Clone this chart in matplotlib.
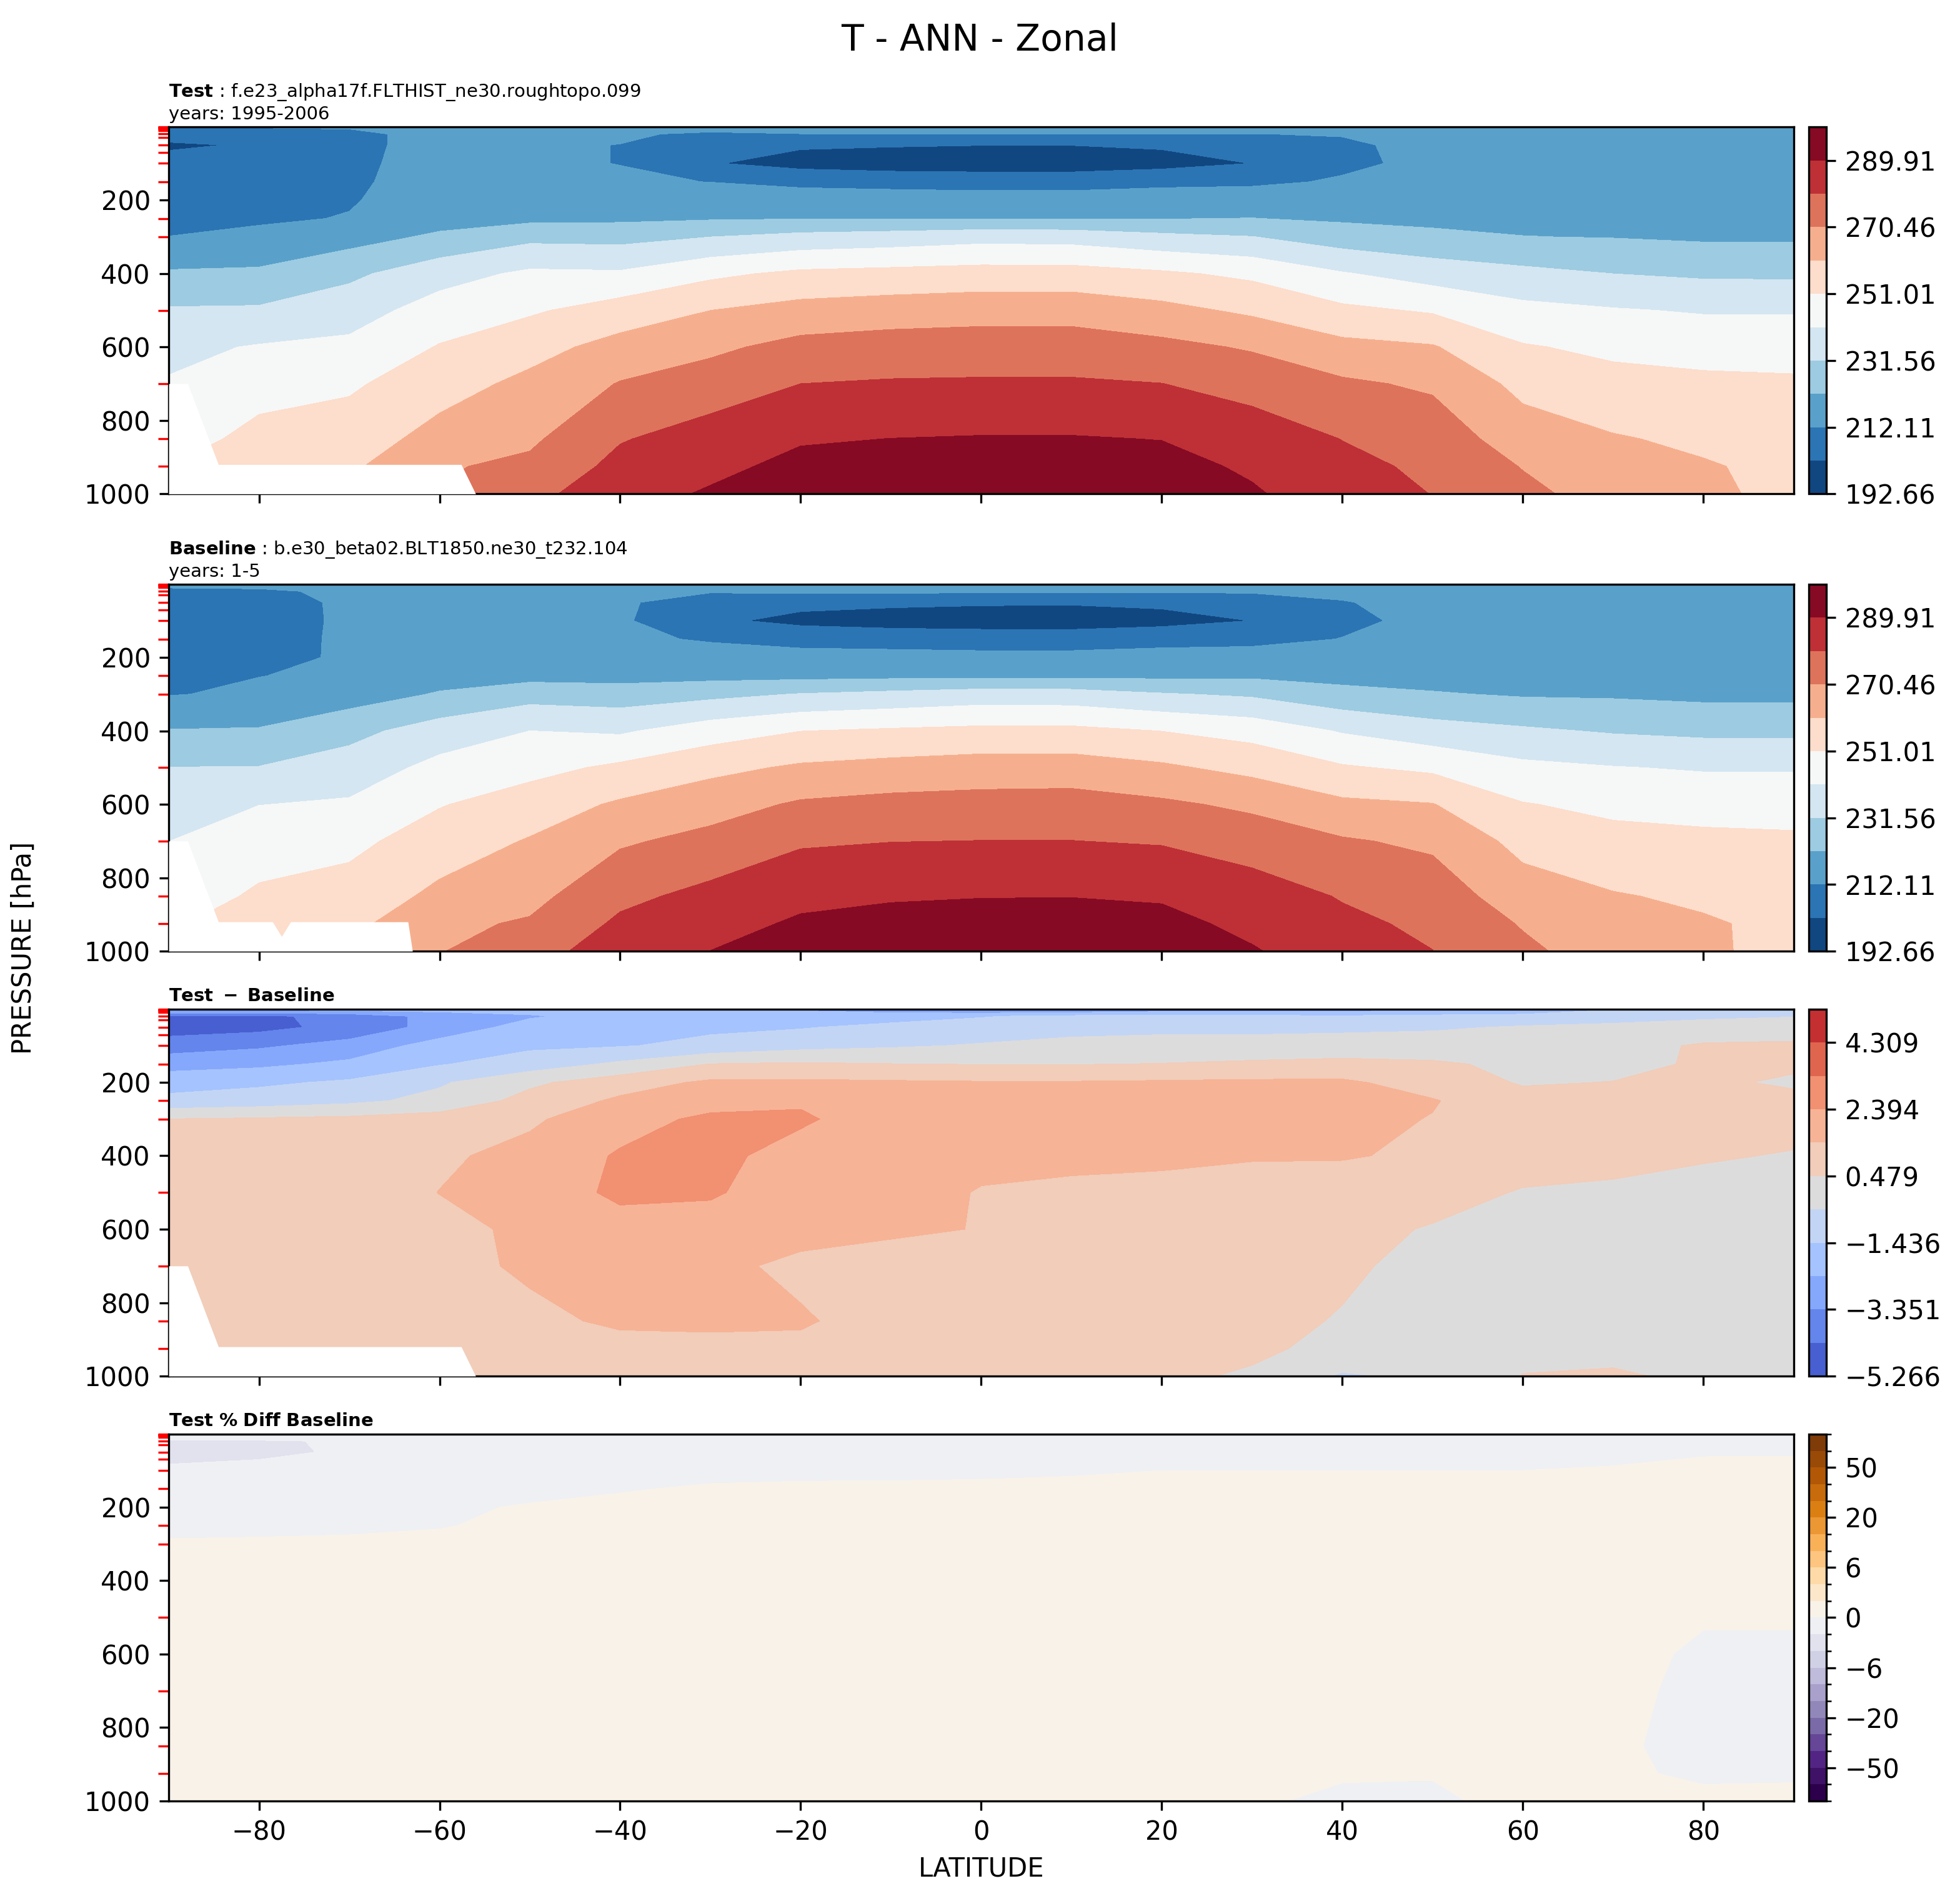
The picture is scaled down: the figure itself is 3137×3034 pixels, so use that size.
import numpy as np
import matplotlib
matplotlib.use("Agg")
import matplotlib.pyplot as plt
from matplotlib.colors import BoundaryNorm
from matplotlib.ticker import FixedLocator

lats = [-90, -80, -70, -60, -50, -40, -30, -20, -10, 0, 10, 20, 30, 40, 50, 60, 70, 80, 90]
plev = [1, 20, 50, 100, 150, 200, 250, 300, 400, 500, 600, 700, 850, 925, 1000]
std_levels = [1, 2, 3, 5, 7, 10, 20, 30, 50, 70, 100, 150, 200, 250, 300, 400, 500, 600, 700, 850, 925, 1000]

# Test temperature (K), one list per latitude, values at plev
T_test = [
    [213, 205, 201.5, 204.5, 206, 208, 210, 212.2, 223, 232.5, 239, 242, 248, 251, 253],
    [213, 206, 203, 205, 207, 209, 211, 214, 223.5, 232.8, 242, 248.5, 253, 256, 258],
    [213, 210, 210, 210.5, 211, 211.5, 212.5, 218, 229.5, 237, 243.5, 249.5, 256, 259, 261],
    [216, 215, 215, 215, 215, 216, 218, 223.5, 237.5, 245.5, 251.6, 257, 264, 269.5, 271],
    [216, 214, 213, 213, 214, 216, 219.5, 229, 243, 249.7, 257.5, 263, 268.8, 272.5, 277.5],
    [216, 213, 212, 212, 213, 216, 220, 228.5, 242.5, 255.5, 264, 271, 279.5, 283, 286],
    [215, 211, 205, 203, 212, 216.5, 221, 231.5, 249, 260.7, 268.5, 275, 284.5, 287.5, 291],
    [215, 212, 203.5, 199, 210, 216.5, 221.5, 234.5, 253, 264, 273.5, 280.2, 289, 292.5, 295],
    [215, 212, 203, 197.5, 209, 216.5, 221.5, 236, 254, 265.5, 275, 281, 290, 294, 297],
    [215, 212, 202.5, 197, 208.5, 216, 221.5, 238, 255, 266.5, 275.5, 281.2, 290.5, 294.5, 297.5],
    [215, 212, 202.5, 197, 208.5, 216, 221.5, 237.5, 255, 266.5, 275.5, 281.2, 290.5, 294.5, 297.5],
    [215, 212, 203.5, 199, 210, 216.5, 221.5, 234, 252.5, 263.5, 273, 280.3, 289.7, 293, 295.5],
    [215, 212, 206, 202.5, 210.5, 217, 222, 231.8, 249, 259, 269.5, 276.5, 285.5, 288.5, 291],
    [215, 212.5, 211, 210.5, 213, 216.5, 220.5, 226.5, 242, 253, 263.5, 272, 280, 282.5, 284.5],
    [216, 214, 214, 214, 215, 217, 219.5, 224, 237, 250, 261.5, 269, 276, 278.5, 280],
    [217, 216, 216, 216, 217, 218, 219.5, 222, 234, 244, 251.8, 258, 265.5, 270, 273],
    [217, 216.5, 216.5, 216.5, 217, 218, 219.5, 221.5, 231.5, 242, 249, 254, 261.5, 264, 266],
    [217, 216.5, 216.5, 216.5, 217, 218, 219, 220.5, 230, 240.5, 247.5, 253, 259, 261.5, 262],
    [217, 216.5, 216.5, 216.5, 217, 218, 219, 220.5, 229.8, 240.5, 247, 252.5, 257, 258.5, 259],
]

# Test - Baseline (K), one list per pressure level, values at lats
T_diff = [
    [-2, -2, -2, -2, -2, -2, -2, -2.5, -3, -3.5, -3.5, -3, -3, -3, -2.5, -2.5, -1.5, -1, -0.6],
    [-4.5, -4.5, -4, -3, -2.5, -2, -2, -2, -1.8, -1.5, -1.2, -1.2, -1.2, -1.3, -1.2, -1, -0.8, -0.6, -0.5],
    [-4.8, -4.6, -4, -3, -2, -1.7, -1.6, -1.5, -1.2, -1.0, -0.8, -0.8, -0.8, -0.7, -0.6, -0.4, -0.3, -0.2, -0.2],
    [-3.8, -3.5, -3, -2, -1.6, -1.5, -1.2, -0.8, -0.6, -0.4, -0.2, 0, 0, 0, 0, 0, 0.1, 0.6, 0.7],
    [-2.8, -2.6, -2.2, -1.5, -1.0, -0.3, 0.5, 0.6, 0.5, 0.45, 0.45, 0.5, 0.6, 0.7, 0.6, 0.3, 0.2, 0.6, 0.7],
    [-1.8, -1.6, -1.3, -0.6, 0.3, 1.0, 1.6, 1.6, 1.55, 1.5, 1.5, 1.55, 1.6, 1.6, 1.0, 0.4, 0.5, 0.7, 0.3],
    [-1.2, -1.0, -0.7, -0.2, 0.8, 1.6, 2.0, 2.3, 1.9, 1.8, 1.7, 1.7, 1.7, 1.7, 1.5, 0.8, 0.8, 0.8, 0.8],
    [0.5, 0.6, 0.7, 0.9, 1.3, 2.0, 2.6, 2.5, 2.0, 1.8, 1.7, 1.7, 1.7, 1.7, 1.4, 1.1, 0.9, 0.9, 0.9],
    [0.7, 0.8, 0.9, 1.3, 1.7, 2.5, 2.6, 2.1, 1.7, 1.6, 1.6, 1.6, 1.5, 1.5, 1.3, 1.0, 0.8, 0.6, 0.4],
    [0.8, 0.9, 1.0, 1.45, 1.8, 2.6, 2.5, 1.9, 1.7, 1.4, 1.3, 1.2, 1.1, 1.0, 0.9, 0.4, 0.3, 0.05, 0.05],
    [0.8, 0.9, 1.0, 1.2, 1.6, 2.0, 2.0, 1.8, 1.6, 1.4, 1.0, 0.9, 0.9, 0.8, 0.4, 0.3, 0.2, -0.1, -0.1],
    [0.8, 0.9, 1.0, 1.1, 1.6, 1.8, 1.7, 1.2, 1.0, 0.9, 0.9, 0.9, 0.8, 0.55, 0.35, 0.3, 0.1, -0.1, -0.1],
    [0.9, 0.9, 1.0, 1.1, 1.2, 1.6, 1.6, 1.55, 1.0, 0.9, 0.8, 0.7, 0.6, 0.45, 0.3, 0.2, 0.1, -0.2, -0.2],
    [1.0, 1.0, 1.0, 1.0, 1.0, 1.1, 1.2, 1.2, 1.1, 0.9, 0.8, 0.7, 0.6, 0.3, 0.1, 0.3, 0.2, -0.2, -0.1],
    [1.0, 1.0, 1.0, 1.0, 1.0, 1.0, 1.0, 1.0, 0.9, 0.8, 0.7, 0.6, 0.4, -0.6, -0.3, 0.5, 0.6, 0.3, 0.2],
]

# Below-surface (masked) regions: latitude and top pressure of the mask
mask_test_lat = [-90, -87.9, -84.5, -57.6, -56]
mask_test_p = [700, 700, 920, 920, 1000]
mask_base_lat = [-90, -87.9, -84.5, -78.5, -77.5, -76.5, -63.5, -63]
mask_base_p = [700, 700, 920, 920, 960, 920, 920, 1000]

T_levels = np.linspace(192.66, 299.635, 12)
D_levels = np.linspace(-5.266, 5.266, 12)
P_levels = [-100, -75, -50, -40, -30, -20, -15, -10, -6, -4, -2, 0, 2, 4, 6, 10, 15, 20, 30, 40, 50, 75, 100]

test = np.array(T_test).T
diff = np.array(T_diff)
base = test - diff
pct = (test - base) / base * 100.0

LAT, P = np.meshgrid(lats, plev)

fig = plt.figure(figsize=(3137 / 300, 3034 / 300), dpi=300)
fig.suptitle("T - ANN - Zonal", fontsize=14, y=0.988)

left, width = 0.0861, 0.829
tops = [0.933, 0.6918, 0.4677, 0.2436]
h = 0.1935
cb_x, cb_w = 0.9229, 0.009

titles = [
    r"$\bf{Test}$ : f.e23_alpha17f.FLTHIST_ne30.roughtopo.099" + "\nyears: 1995-2006",
    r"$\bf{Baseline}$ : b.e30_beta02.BLT1850.ne30_t232.104" + "\nyears: 1-5",
    r"$\bf{Test\ -\ Baseline}$",
    r"$\bf{Test\ \%\ Diff\ Baseline}$",
]
fields = [test, base, diff, pct]
cmaps = ["RdBu_r", "RdBu_r", "coolwarm", "PuOr_r"]
levs = [T_levels, T_levels, D_levels, P_levels]
masks = [(mask_test_lat, mask_test_p), (mask_base_lat, mask_base_p), (mask_test_lat, mask_test_p), None]

for i in range(4):
    ax = fig.add_axes([left, tops[i] - h, width, h])
    if i == 3:
        norm = BoundaryNorm(P_levels, 256)
        cs = ax.contourf(LAT, P, fields[i], levels=levs[i], cmap=cmaps[i], norm=norm)
    else:
        cs = ax.contourf(LAT, P, fields[i], levels=levs[i], cmap=cmaps[i])
    if masks[i] is not None:
        ax.fill_between(masks[i][0], masks[i][1], 1000, color="white", zorder=3, lw=0)
    ax.set_xlim(-90, 90)
    ax.set_ylim(1000, 1)
    ax.set_yticks([200, 400, 600, 800, 1000])
    ax.set_yticks(std_levels, minor=True)
    ax.tick_params(axis="y", which="minor", color="red", length=4, width=0.8)
    ax.set_xticks([-80, -60, -40, -20, 0, 20, 40, 60, 80])
    ax.tick_params(labelsize=10)
    if i < 3:
        ax.tick_params(axis="x", labelbottom=False)
    else:
        ax.set_xlabel("LATITUDE", fontsize=10)
    ax.set_title(titles[i], loc="left", fontsize=7, pad=3)
    cax = fig.add_axes([cb_x, tops[i] - h, cb_w, h])
    cb = fig.colorbar(cs, cax=cax)
    cb.ax.tick_params(labelsize=10)
    if i < 2:
        tk = T_levels[:-1:2]
        cb.set_ticks(tk)
        cb.set_ticklabels([f"{v:.2f}" for v in tk])
    elif i == 2:
        tk = D_levels[:-1:2]
        cb.set_ticks(tk)
        cb.set_ticklabels([f"{v:.3f}".replace("-", "\u2212") for v in tk])
    else:
        cb.set_ticks([-50, -20, -6, 0, 6, 20, 50])
        cb.set_ticklabels(["\u221250", "\u221220", "\u22126", "0", "6", "20", "50"])
        cb.ax.yaxis.set_minor_locator(FixedLocator(P_levels))

fig.text(0.012, 0.5, "PRESSURE [hPa]", rotation=90, va="center", ha="center", fontsize=10)
fig.savefig("out.png", dpi=300)
